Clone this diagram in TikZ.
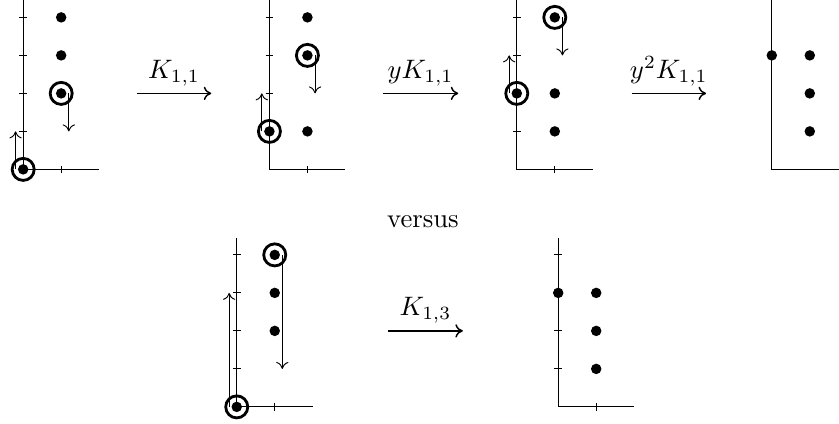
\documentclass[tikz,border=0pt]{standalone}
\usetikzlibrary{arrows.meta}
\tikzset{
  axisline/.style={line width=0.45pt},
  tickline/.style={line width=0.45pt},
  ring/.style={line width=1.05pt},
  moveline/.style={line width=0.35pt,-{To[length=2.6pt,width=4.6pt]}},
  maparrow/.style={line width=0.55pt,-{To[length=2.8pt,width=5pt]}},
  maplabel/.style={above,inner sep=2.5pt},
}
\newcommand{\myaxes}{\draw[axisline] (0,4.45) -- (0,0) -- (2,0);}
\newcommand{\myticks}{\foreach \k in {1,2,3,4}{\draw[tickline] (-0.1,\k) -- (0.1,\k);}\draw[tickline] (1,-0.1) -- (1,0.1);}
\newcommand{\mydot}[1]{\fill #1 circle[radius=0.138];}
\newcommand{\myring}[1]{\draw[ring] #1 circle[radius=0.29];}
\begin{document}
\begin{tikzpicture}[x=0.5cm,y=0.5cm]
\useasboundingbox (0,0) rectangle (22.079,11.158);
% plot 1
\begin{scope}[shift={(0.61,6.7)}]
  \myaxes \myticks
  \mydot{(1,4)} \mydot{(1,3)} \mydot{(1,2)} \mydot{(0,0)}
  \myring{(1,2)} \myring{(0,0)}
  \draw[moveline] (1.2,2) -- (1.2,1);
  \draw[moveline] (-0.2,0) -- (-0.2,1);
\end{scope}
% plot 2
\begin{scope}[shift={(7.09,6.7)}]
  \myaxes \myticks
  \mydot{(1,4)} \mydot{(1,3)} \mydot{(1,1)} \mydot{(0,1)}
  \myring{(1,3)} \myring{(0,1)}
  \draw[moveline] (1.2,3) -- (1.2,2);
  \draw[moveline] (-0.2,1) -- (-0.2,2);
\end{scope}
% plot 3
\begin{scope}[shift={(13.6,6.7)}]
  \myaxes \myticks
  \mydot{(1,4)} \mydot{(0,2)} \mydot{(1,2)} \mydot{(1,1)}
  \myring{(1,4)} \myring{(0,2)}
  \draw[moveline] (1.2,4) -- (1.2,3);
  \draw[moveline] (-0.2,2) -- (-0.2,3);
\end{scope}
% plot 4
\begin{scope}[shift={(20.31,6.7)}]
  \myaxes
  \mydot{(0,3)} \mydot{(1,3)} \mydot{(1,2)} \mydot{(1,1)}
\end{scope}
% bottom left
\begin{scope}[shift={(6.23,0.45)}]
  \myaxes \myticks
  \mydot{(1,4)} \mydot{(1,3)} \mydot{(1,2)} \mydot{(0,0)}
  \myring{(1,4)} \myring{(0,0)}
  \draw[moveline] (1.2,4) -- (1.2,1);
  \draw[moveline] (-0.2,0) -- (-0.2,3);
\end{scope}
% bottom right
\begin{scope}[shift={(14.69,0.45)}]
  \myaxes \myticks
  \mydot{(0,3)} \mydot{(1,3)} \mydot{(1,2)} \mydot{(1,1)}
\end{scope}
% map arrows
\coordinate (a1s) at (3.6,8.7);   \coordinate (a1e) at (5.56,8.7);
\coordinate (a2s) at (10.07,8.7); \coordinate (a2e) at (12.06,8.7);
\coordinate (a3s) at (16.62,8.7); \coordinate (a3e) at (18.58,8.7);
\coordinate (b1s) at (10.21,2.45); \coordinate (b1e) at (12.18,2.45);
\draw[maparrow] (a1s) -- (a1e) node[midway,maplabel] (l1) {$K_{1,1}$};
\draw[maparrow] (a2s) -- (a2e) node[midway,maplabel] (l2) {$yK_{1,1}$};
\draw[maparrow] (a3s) -- (a3e) node[midway,maplabel] (l3) {$y^2K_{1,1}$};
\draw[maparrow] (b1s) -- (b1e) node[midway,maplabel] (l4) {$K_{1,3}$};
\node[anchor=base] (vs) at (11.13,5.16) {versus};
\end{tikzpicture}
\end{document}
